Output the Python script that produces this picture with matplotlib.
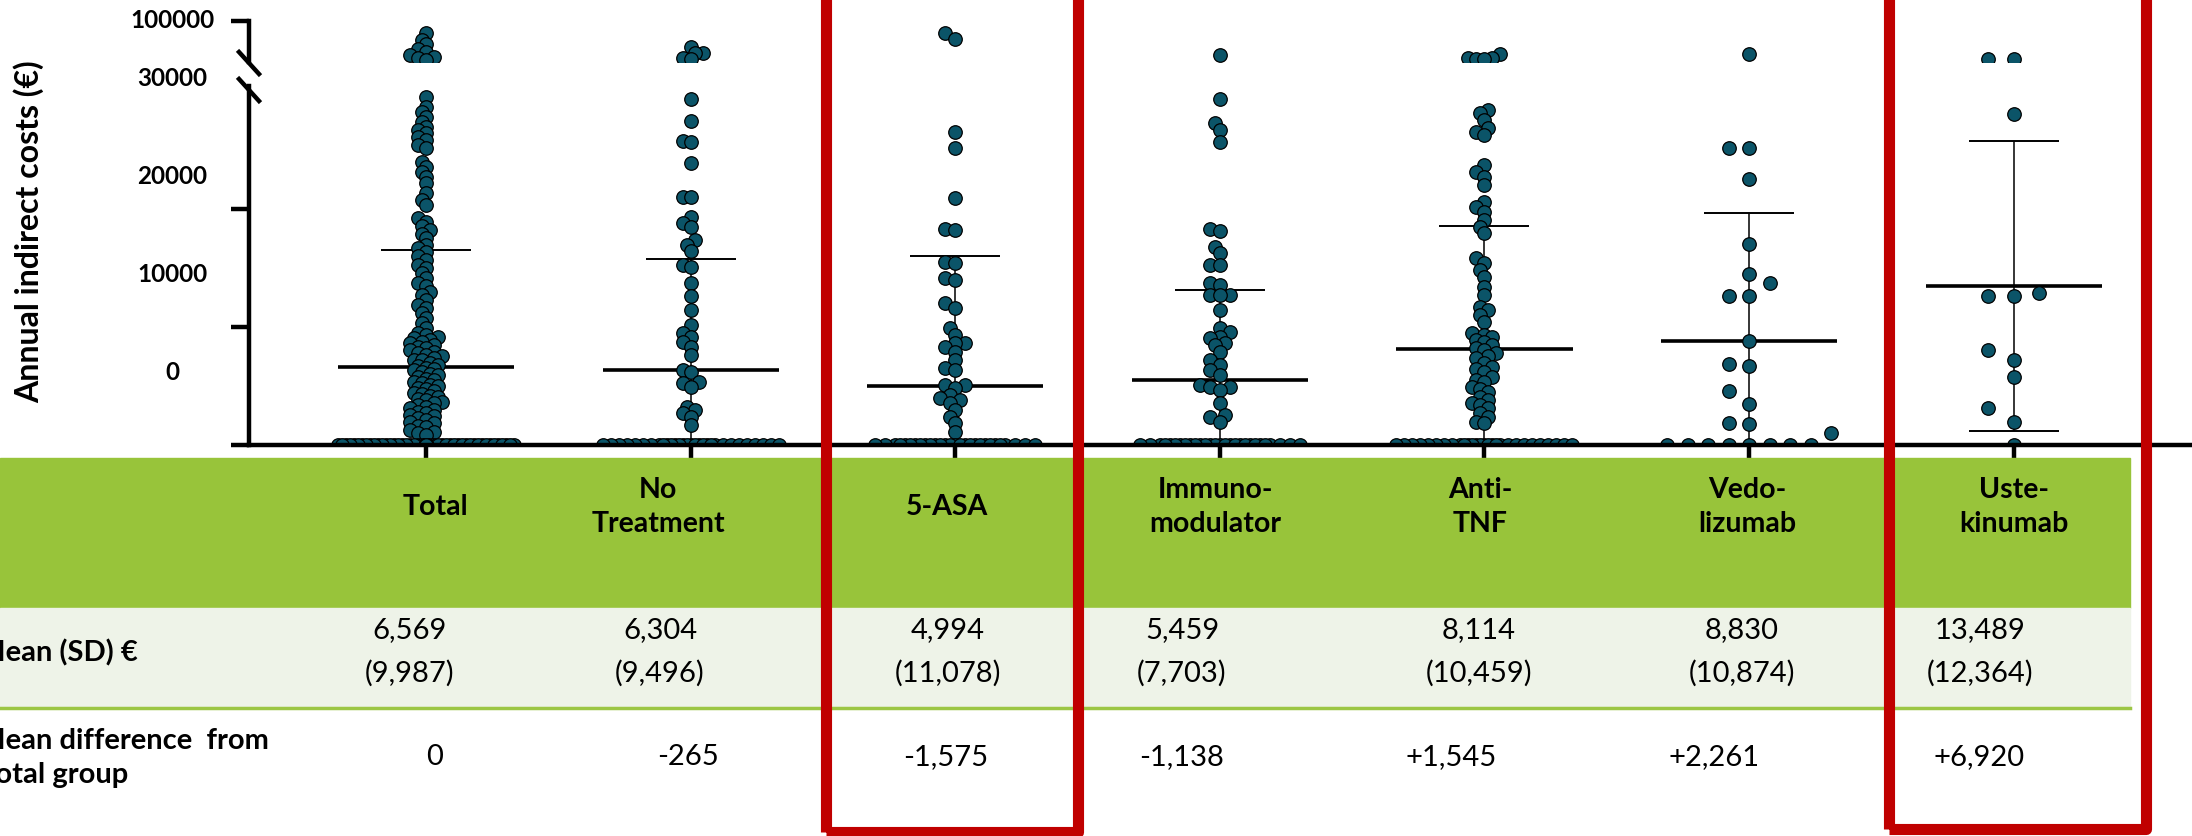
import numpy as np
import matplotlib
matplotlib.use('Agg')
import matplotlib.pyplot as plt
from matplotlib.lines import Line2D
from matplotlib.patches import Rectangle

plt.rcParams['font.family'] = ['Lato', 'DejaVu Sans']

# ---- data ----
groups = ['Total', 'No\nTreatment', '5-ASA', 'Immuno-\nmodulator',
          'Anti-\nTNF', 'Vedo-\nlizumab', 'Uste-\nkinumab']
means = [6569, 6304, 4994, 5459, 8114, 8830, 13489]
sds = [9987, 9496, 11078, 7703, 10459, 10874, 12364]
diffs = [0, -265, -1575, -1138, 1545, 2261, 6920]

# values above the axis break (upper segment)
total_hi = [79000, 68000, 60000, 52000, 47000, 42000, 38000, 36000, 34000]
notreat_hi = [56000, 45400, 45000, 36000, 35000]
asa_hi = [79000, 69000]
immuno_hi = [42000]
antitnf_hi = [44000, 36800, 36000, 35200, 34500]
vedo_hi = [43000]
uste_hi = [35500, 34800]

# values below the break (non-zero)
total_lo = [29600, 28750, 28300, 27900, 27450, 27050, 26750, 26500, 26200, 25900,
            25500, 25200, 24050, 23650, 23200, 22800, 22250, 21400, 20800, 20400,
            19250, 18950, 18550, 18250, 17950, 17550, 16950, 16700, 16400, 16000,
            15700, 15250, 15000, 14550, 14150, 13700, 13450, 13000, 12700, 12300,
            11850, 11600, 11150, 10750, 10300, 9900, 9450, 9300, 9150, 9050, 8900,
            8700, 8650, 8450, 8300, 8200, 8000, 7900, 7750, 7600, 7500, 7350, 7200,
            7150, 6950, 6800, 6700, 6550, 6400, 6300, 6150, 6000, 5950, 5750, 5600,
            5500, 5350, 5200, 5100, 4950, 4800, 4700, 4550, 4400, 4300, 4150, 4000,
            3900, 3750, 3600, 3500, 3350, 3200, 3100, 2950, 2800, 2650, 2550, 2400,
            2250, 2100, 1950, 1800, 1600, 1450, 1250, 1050, 980, 810]
notreat_lo = [29400, 27550, 25830, 25700, 23980, 21090, 21060, 19390, 18820, 18540,
              17400, 16980, 16490, 15280, 15130, 13720, 12660, 11450, 10170, 9460,
              9170, 8750, 8320, 7620, 6340, 6200, 5340, 5210, 4920, 3220, 2940,
              2700, 2370, 1660]
asa_lo = [26620, 25260, 21000, 18310, 18250, 15560, 15420, 14140, 14000, 12020,
          11590, 9890, 9320, 8610, 8600, 8320, 7900, 7190, 6490, 6340, 5060, 5050,
          4780, 4210, 3930, 3790, 3510, 2940, 2370, 1800, 1090]
immuno_lo = [29400, 27390, 26760, 25720, 18310, 18200, 16830, 16270, 15280, 15260,
             13720, 13570, 12720, 12710, 12700, 11450, 9890, 9600, 9170, 9040, 8610,
             8470, 7900, 7190, 6770, 6340, 5910, 5060, 4920, 4900, 4640, 3510, 2510,
             2370, 1940]
antitnf_lo = [28470, 28210, 27620, 26930, 26590, 26340, 23790, 23190, 22760, 22080,
              20660, 20240, 19810, 19110, 18540, 17970, 15850, 15420, 14850, 14280,
              13430, 12720, 11730, 11450, 11020, 10450, 9460, 9300, 9170, 8890, 8700,
              8470, 8200, 8040, 7760, 7500, 7340, 6910, 6620, 6400, 6200, 5770, 5500,
              5340, 4920, 4700, 4490, 4070, 3790, 3500, 3360, 3080, 2660, 2300, 1940,
              1800]
vedo_lo = [25200, 25200, 22600, 17060, 14480, 13720, 12640, 12640, 8830, 6850, 6680,
           4530, 3450, 1800, 1720, 950]
uste_lo = [28130, 12920, 12640, 12640, 8070, 7170, 5740, 3080, 1920]

# number of patients with zero indirect costs (estimated from the base rows)
n_zero = [140, 30, 28, 28, 28, 8, 1]

hi_vals = [total_hi, notreat_hi, asa_hi, immuno_hi, antitnf_hi, vedo_hi, uste_hi]
lo_vals = [total_lo, notreat_lo, asa_lo, immuno_lo, antitnf_lo, vedo_lo, uste_lo]

# ---- layout (pixels of the 2192x836 canvas) ----
W, H = 2192, 836
hdr_x = [435, 658, 947, 1215, 1480, 1747, 2014]
mean_x = [410, 660, 948, 1182, 1479, 1742, 1980]
diff_x = [435, 688, 946, 1182, 1451, 1714, 1979]
swarm_step = [4, 4, 5, 5, 4, 20.5, 25.5]
swarm_gap = [6, 7, 8, 8, 7, 14, 14]

dot = '#0B5468'
green = '#98C43A'
light = '#EEF3E8'
red = '#C00000'


def fx(x):
    return x / W


def fy(y):
    return 1 - y / H


def swarm(vals, axis, step, gap, halfw=88):
    """Horizontal offsets (data units) so that dots do not pile up"""
    vals = np.asarray(vals, float)
    ys = axis.transData.transform(np.column_stack([np.zeros_like(vals), vals]))[:, 1]
    kmax = int(halfw // step)
    cands = np.array([0.0] + [s * k * step for k in range(1, kmax + 1) for s in (-1, 1)])
    px, py = [], []
    offs = np.zeros(len(vals))
    for i in np.argsort(vals, kind='stable'):
        y = ys[i]
        X = np.array(px)
        Y = np.array(py)
        if len(X):
            near = np.abs(Y - y) < gap
            X, Y = X[near], Y[near]
        if len(X) == 0:
            c = 0.0
        else:
            d = np.sqrt((cands[:, None] - X[None, :]) ** 2 + (y - Y[None, :]) ** 2).min(axis=1)
            ok = np.nonzero(d >= gap)[0]
            c = cands[ok[0]] if len(ok) else cands[np.argmax(d)]
        offs[i] = c
        px.append(c)
        py.append(y)
    ppu = axis.transData.transform((1, 0))[0] - axis.transData.transform((0, 0))[0]
    return offs / ppu


fig = plt.figure(figsize=(W / 100, H / 100), dpi=100)

# lower segment 0..30500, upper segment 30000..100000
ax = fig.add_axes([fx(249), fy(444.5), fx(W - 249), (444.5 - 86) / H])
axt = fig.add_axes([fx(249), fy(62), fx(W - 249), 41 / H])
for a in (ax, axt):
    a.set_xlim(-0.669, 6.674)
    a.set_facecolor('none')
    for s in ('top', 'right'):
        a.spines[s].set_visible(False)
    for s in ('left', 'bottom'):
        a.spines[s].set_linewidth(3.2)
ax.set_ylim(0, 30500)
axt.set_ylim(30000, 100000)
axt.spines['bottom'].set_visible(False)

ax.set_yticks([0, 10000, 20000])
ax.set_yticklabels([])
ax.set_xticks(range(len(groups)))
ax.set_xticklabels([])
ax.tick_params(axis='y', length=13, width=3.2)
ax.tick_params(axis='x', length=10, width=3.2)
axt.set_yticks([100000])
axt.set_yticklabels([])
axt.set_xticks([])
axt.tick_params(axis='y', length=13, width=3.2)

for i in range(len(groups)):
    m, sd = means[i], sds[i]
    ax.vlines(i, m - sd, m + sd, color='black', lw=1.1, zorder=1.5)
    ax.hlines([m + sd, m - sd], i - 0.17, i + 0.17, color='black', lw=1.4, zorder=1.5)
    ax.hlines(m, i - 0.333, i + 0.333, color='black', lw=2.6, zorder=1.5)

    lo = list(lo_vals[i]) + [0] * n_zero[i]
    off = swarm(lo, ax, swarm_step[i], swarm_gap[i])
    ax.scatter(i + off, lo, s=95, color=dot, edgecolor='black', linewidth=0.9, zorder=2)
    off = swarm(hi_vals[i], axt, swarm_step[i], swarm_gap[i])
    axt.scatter(i + off, hi_vals[i], s=95, color=dot, edgecolor='black', linewidth=0.9,
                zorder=2)

# axis break marks
for y0 in (52, 79):
    fig.add_artist(Line2D([fx(239), fx(259)], [fy(y0), fy(y0 + 22)], lw=3.2, color='black'))

# tick labels as they sit in the original figure
for lab, y in [('100000', 20), ('30000', 78), ('20000', 177), ('10000', 275), ('0', 373)]:
    fig.text(fx(172), fy(y), lab, ha='center', va='center', weight='bold', size=17.5)
fig.text(fx(29), fy(232), 'Annual indirect costs (€)', rotation=90, ha='center',
         va='center', weight='bold', size=23)

# ---- table under the plot ----
fig.add_artist(Rectangle((0, fy(608)), fx(2130), 150 / H, transform=fig.transFigure,
                         color=green, zorder=0.5))
fig.add_artist(Rectangle((0, fy(707)), fx(2130), 99 / H, transform=fig.transFigure,
                         color=light, zorder=0.5))
fig.add_artist(Line2D([0, fx(2130)], [fy(708), fy(708)], lw=2.5, color='#9CC644', zorder=0.6))

for i in range(len(groups)):
    fig.text(fx(hdr_x[i]), fy(507), groups[i], ha='center', va='center', weight='bold',
             size=20.5, linespacing=1.4)
    fig.text(fx(mean_x[i]), fy(630), f'{means[i]:,}', ha='center', va='center', size=21)
    fig.text(fx(mean_x[i]), fy(673), f'({sds[i]:,})', ha='center', va='center', size=21)
    d = '0' if diffs[i] == 0 else f'{diffs[i]:+,}'
    fig.text(fx(diff_x[i]), fy(757), d, ha='center', va='center', size=21)

fig.text(fx(138), fy(653), 'Mean (SD) €', ha='right', va='center', weight='bold', size=21)
fig.text(fx(-22), fy(758), 'Mean difference  from\nTotal group', ha='left', va='center',
         weight='bold', size=21, linespacing=1.35)

# red highlight boxes
for x0, x1, yb in [(826, 1078, 832), (1889, 2146, 829)]:
    fig.add_artist(Rectangle((fx(x0), fy(yb)), fx(x1 - x0), (yb + 40) / H,
                             transform=fig.transFigure, fill=False, edgecolor=red,
                             lw=8, joinstyle='round', zorder=10))

fig.savefig('out.png', dpi=100)
